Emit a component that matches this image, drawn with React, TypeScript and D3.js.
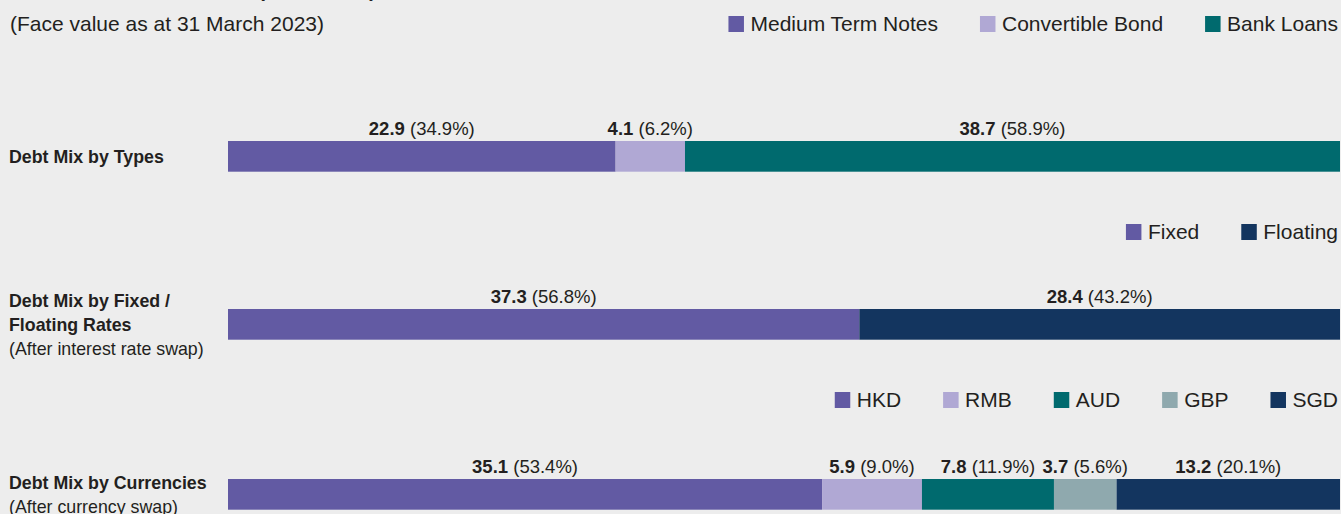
import React, { useEffect, useRef } from "react";
import * as d3 from "d3";

// ---------- data ----------
const titleText = "Total Debt Structure (HK$ billion)";
const subtitleText = "(Face value as at 31 March 2023)";

const typeCategories = ["Medium Term Notes", "Convertible Bond", "Bank Loans"];
const typeValues = [22.9, 4.1, 38.7];
const typePercents = ["34.9%", "6.2%", "58.9%"];

const rateCategories = ["Fixed", "Floating"];
const rateValues = [37.3, 28.4];
const ratePercents = ["56.8%", "43.2%"];

const currencyCategories = ["HKD", "RMB", "AUD", "GBP", "SGD"];
const currencyValues = [35.1, 5.9, 7.8, 3.7, 13.2];
const currencyPercents = ["53.4%", "9.0%", "11.9%", "5.6%", "20.1%"];

const rowTitles = [
  [{ t: "Debt Mix by Types", b: true }],
  [
    { t: "Debt Mix by Fixed /", b: true },
    { t: "Floating Rates", b: true },
    { t: "(After interest rate swap)", b: false },
  ],
  [
    { t: "Debt Mix by Currencies", b: true },
    { t: "(After currency swap)", b: false },
  ],
];

// ---------- styles ----------
const W = 1341;
const H = 514;
const BG = "#EDEDED";
const TEXT = "#231F20";
const FONT = "'Liberation Sans', Arial, Helvetica, sans-serif";
const colorMap: Record<string, string> = {
  "Medium Term Notes": "#625AA3",
  "Convertible Bond": "#B0A8D4",
  "Bank Loans": "#006A6E",
  Fixed: "#625AA3",
  Floating: "#13355F",
  HKD: "#625AA3",
  RMB: "#B0A8D4",
  AUD: "#006A6E",
  GBP: "#8FA9AE",
  SGD: "#13355F",
};

export default function App() {
  const ref = useRef<SVGSVGElement | null>(null);

  useEffect(() => {
    const svg = d3.select(ref.current);
    svg.selectAll("*").remove();

    svg.append("rect").attr("width", W).attr("height", H).attr("fill", BG);

    // title (mostly cut off at the top edge) and subtitle
    svg
      .append("text")
      .attr("x", 376)
      .attr("y", -3)
      .attr("text-anchor", "end")
      .attr("font-family", FONT)
      .attr("font-size", 20)
      .attr("font-weight", "bold")
      .attr("fill", TEXT)
      .text(titleText);

    svg
      .append("text")
      .attr("x", 10)
      .attr("y", 31)
      .attr("font-family", FONT)
      .attr("font-size", 21)
      .attr("fill", TEXT)
      .text(subtitleText);

    const rows = [
      { cats: typeCategories, vals: typeValues, pcts: typePercents, barTop: 141, legendBase: 31 },
      { cats: rateCategories, vals: rateValues, pcts: ratePercents, barTop: 309, legendBase: 239 },
      { cats: currencyCategories, vals: currencyValues, pcts: currencyPercents, barTop: 479, legendBase: 407 },
    ];
    const rowTitleBase = [163, 306.5, 489.3];
    const barH = 30.7;
    const x0 = 228;
    const x1 = 1340;
    const legendRight = 1338;
    const sq = 15.5;
    const sqGap = 6.5;
    const itemGap = 42;

    rows.forEach((row, ri) => {
      const total = d3.sum(row.vals);
      const x = d3.scaleLinear().domain([0, total]).range([x0, x1]);
      const starts = d3.cumsum([0, ...row.vals]);
      const g = svg.append("g");

      // bars
      row.cats.forEach((c, i) => {
        g.append("rect")
          .attr("x", x(starts[i]))
          .attr("y", row.barTop)
          .attr("width", x(starts[i + 1]) - x(starts[i]))
          .attr("height", barH)
          .attr("fill", colorMap[c]);
      });

      // value labels
      row.cats.forEach((c, i) => {
        const cx = (x(starts[i]) + x(starts[i + 1])) / 2;
        const t = g
          .append("text")
          .attr("x", cx)
          .attr("y", row.barTop - 6.5)
          .attr("text-anchor", "middle")
          .attr("font-family", FONT)
          .attr("font-size", 18.5)
          .attr("fill", TEXT);
        t.append("tspan").attr("font-weight", "bold").text(d3.format(".1f")(row.vals[i]));
        t.append("tspan").text(` (${row.pcts[i]})`);
      });

      // row titles
      rowTitles[ri].forEach((line, li) => {
        g.append("text")
          .attr("x", 9)
          .attr("y", rowTitleBase[ri] + li * 24)
          .attr("font-family", FONT)
          .attr("font-size", 17.8)
          .attr("font-weight", line.b ? "bold" : "normal")
          .attr("fill", TEXT)
          .text(line.t);
      });

      // legend, right aligned
      const lg = g.append("g");
      const items = row.cats.map((c) => {
        const ig = lg.append("g");
        ig.append("rect")
          .attr("x", 0)
          .attr("y", row.legendBase - 15)
          .attr("width", sq)
          .attr("height", sq + 0.5)
          .attr("fill", colorMap[c]);
        const tx = ig
          .append("text")
          .attr("x", sq + sqGap)
          .attr("y", row.legendBase)
          .attr("font-family", FONT)
          .attr("font-size", 21)
          .attr("fill", TEXT)
          .text(c);
        const tw = (tx.node() as SVGTextElement).getComputedTextLength();
        return { ig, w: sq + sqGap + tw };
      });
      let cursor = legendRight;
      for (let i = items.length - 1; i >= 0; i--) {
        cursor -= items[i].w;
        items[i].ig.attr("transform", `translate(${cursor},0)`);
        cursor -= itemGap;
      }
    });
  }, []);

  return (
    <svg
      ref={ref}
      width={W}
      height={H}
      style={{ position: "absolute", left: 0, top: 0, display: "block" }}
    />
  );
}
